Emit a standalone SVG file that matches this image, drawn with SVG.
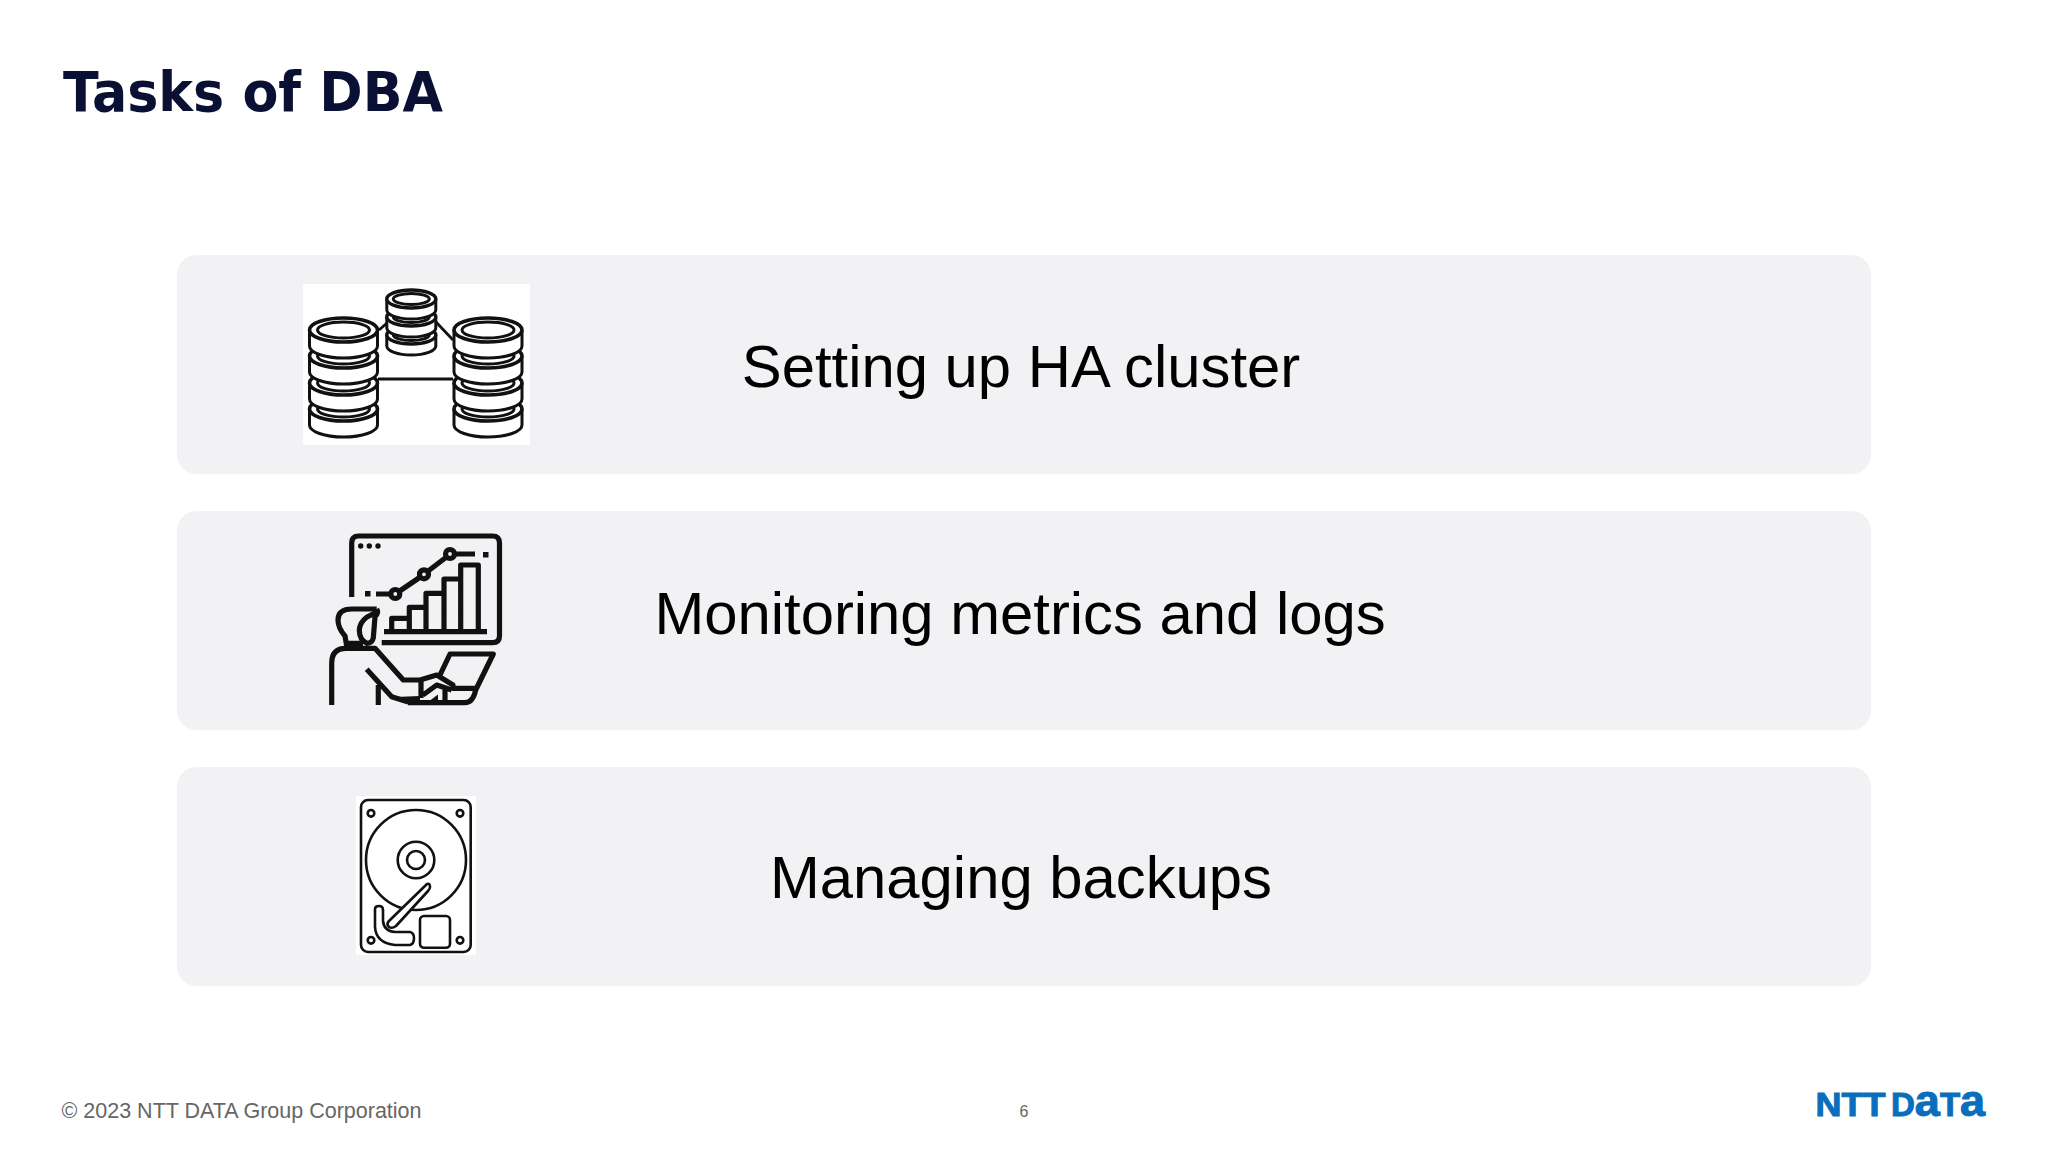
<svg xmlns="http://www.w3.org/2000/svg" width="2048" height="1152" viewBox="0 0 2048 1152">
<style>
.card{fill:#f2f2f4}
.label{font-family:"Liberation Sans",Arial,sans-serif;font-size:59.8px;fill:#000;text-anchor:middle}
.title{font-family:"DejaVu Sans",sans-serif;font-weight:700;font-size:56px;fill:#0a1033}
.foot{font-family:"Liberation Sans",Arial,sans-serif;fill:#666}
.logo{font-family:"Liberation Sans",Arial,sans-serif;font-weight:700;font-size:33px;fill:#0a6ebd;stroke:#0a6ebd;stroke-width:1}
.db{fill:#fff;stroke:#111;stroke-width:3;stroke-linejoin:round}
.ln{fill:none;stroke:#111;stroke-width:5.2;stroke-linecap:butt;stroke-linejoin:round}
.hdd{fill:#fff;stroke:#111;stroke-width:2.6;stroke-linejoin:round}
</style>
<defs>
<g id="disc-l"><path class="db" d="M-34 0V16A34 12 0 0 0 34 16V0"/><ellipse class="db" cx="0" cy="0" rx="34" ry="12" style="stroke-width:3.6"/><ellipse class="db" cx="0" cy="0" rx="26" ry="8"/></g>
<g id="stack-l"><use href="#disc-l" y="79"/><use href="#disc-l" y="53"/><use href="#disc-l" y="26"/><use href="#disc-l" y="0"/></g>
<g id="disc-s"><path class="db" d="M-24.5 0V11A24.5 9 0 0 0 24.500 11V0"/><ellipse class="db" cx="0" cy="0" rx="24.500" ry="9" style="stroke-width:3.4"/><ellipse class="db" cx="0" cy="0" rx="18" ry="5.500"/></g>
</defs>

<text class="title" x="63" y="111" textLength="380" lengthAdjust="spacingAndGlyphs">Tasks of DBA</text>

<g id="card-ha">
<rect class="card" x="177" y="255" width="1694" height="219" rx="20"/>
<rect x="303" y="284" width="227" height="161" fill="#fff"/>
<g id="connectors-icon"><path d="M379 330L387 323M436 322L453 340M378 379H453" fill="none" stroke="#111" stroke-width="2.800"/></g>
<use href="#stack-l" x="343.500" y="330"/>
<use href="#stack-l" x="488" y="330"/>
<g transform="translate(411.300 299)"><use href="#disc-s" y="36"/><use href="#disc-s" y="18"/><use href="#disc-s"/></g>
<text class="label" x="1021" y="387">Setting up HA cluster</text>
</g>

<g id="card-monitor">
<rect class="card" x="177" y="511" width="1694" height="219" rx="20"/>
<g class="ln">
<path d="M351.700 597V543Q351.700 536 358.700 536H492.500Q499.500 536 499.500 543V636Q499.500 642.700 492.500 642.700H381.700"/>
<path d="M376 594H390.500M455 554H475"/>
<circle cx="395.300" cy="594" r="4.500"/><circle cx="424" cy="574.300" r="4.500"/><circle cx="450" cy="554" r="4.500"/>
<path d="M399 591.500L420.300 577M427.500 571.500L446.500 557"/>
<path d="M384 631.700H487"/>
<path d="M391.700 631V618.300H409.300V607.300H426V593.300H444V579H460.700V565H478.300V631M409.300 618.300V631M426 607.300V631M444 593.300V631M460.700 579V631"/>
<path d="M376.700 609H352Q338 609 338 620Q338 628 345 636L346.700 646"/>
<path d="M376.700 609Q379 613 375 616.700L373.300 638Q372 643.300 367 643.300Q359.300 640 359.300 630Q360 622 367 617L376 612.500M346.700 643.300H363"/>
<path d="M331.700 705V663.300Q331.700 648.300 346 648.300H375L403.300 680H420L436.700 675L453 685V688.300H476.700M440 675L450 654H493.300L475.700 690Q473 702.700 465 702.700H408"/>
<path d="M366.700 669.300L391.700 696.700L408.300 702"/>
<path d="M378.300 685V705"/>
<path d="M421 680V698M423 695L436.700 685L451.700 690M445 690V702"/>
</g>
<path d="M395 697L420 696V704H412Q405 704 400 700Z" fill="#111"/>
<path d="M427 702.700L438 694.500V702.700Z" fill="#111"/>
<rect x="365" y="591" width="5.500" height="5.500" fill="#111"/>
<rect x="483" y="552" width="5.500" height="5.500" fill="#111"/>
<circle cx="360.700" cy="546" r="2.700" fill="#111"/><circle cx="369.300" cy="546" r="2.700" fill="#111"/><circle cx="378" cy="546" r="2.700" fill="#111"/>
<text class="label" x="1020" y="634">Monitoring metrics and logs</text>
</g>

<g id="card-backup">
<rect class="card" x="177" y="767" width="1694" height="219" rx="20"/>
<rect x="356" y="796" width="120" height="159" fill="#fff"/>
<rect class="hdd" x="361" y="800" width="109.700" height="152" rx="7"/>
<circle class="hdd" cx="416" cy="860" r="50"/>
<circle class="hdd" cx="416" cy="860" r="18.300"/>
<circle class="hdd" cx="416" cy="860" r="9"/>
<circle class="hdd" cx="371" cy="813.300" r="3.300"/><circle class="hdd" cx="460" cy="813.300" r="3.300"/><circle class="hdd" cx="371" cy="940.300" r="3.300"/><circle class="hdd" cx="460" cy="940.300" r="3.300"/>
<path class="hdd" d="M375 909Q375 906 379 906Q383 906 383 910V921Q384 931 395 932H410Q414 933 414 938Q414 944 410 945H395Q376 943 375 927Z"/>
<path class="hdd" d="M427 884Q430 883 430 887Q430 889 428 891L396 926Q392 929 389 927Q386 924 389 921Z"/>
<rect class="hdd" x="420" y="916" width="30" height="31.700" rx="4"/>
<text class="label" x="1021" y="898">Managing backups</text>
</g>

<text class="foot" x="61.500" y="1118" font-size="21.500">© 2023 NTT DATA Group Corporation</text>
<text class="foot" x="1024" y="1117" font-size="16" text-anchor="middle">6</text>
<text class="logo" y="1116"><tspan x="1815.500" textLength="70" lengthAdjust="spacingAndGlyphs">NTT</tspan> <tspan x="1891">D</tspan><tspan font-size="45">a</tspan><tspan>T</tspan><tspan font-size="45">a</tspan></text>
</svg>
